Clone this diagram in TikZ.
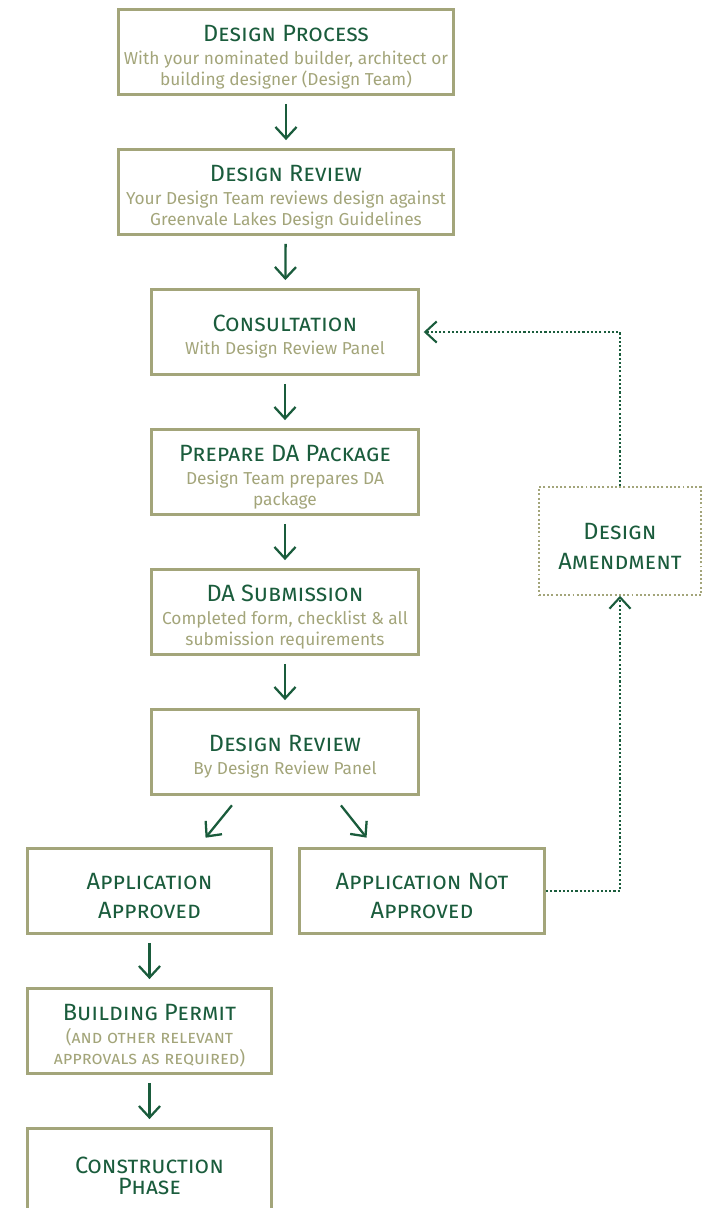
\documentclass[tikz,border=0pt]{standalone}
\usepackage{fontspec}
\setmainfont{Fira Sans}
\usepackage{tikz}
\usetikzlibrary{positioning}
\usetikzlibrary{arrows.meta}
\usepackage{xcolor}

\definecolor{gvGreen}{HTML}{1A5C3C}
\definecolor{gvKhaki}{HTML}{A3A57A}

\newcommand{\lift}{\rule{0pt}{15pt}}
\newcommand{\stagetitle}[1]{{\fontsize{13.4}{15}\selectfont\scshape\color{gvGreen}#1}}
\newcommand{\stagenote}[1]{{\color{gvKhaki}#1}}

\begin{document}
\begin{tikzpicture}[x=0.02cm, y=-0.02cm,
    stage/.style={draw=gvKhaki, line width=1.7pt, align=center, inner sep=0pt,
        minimum height=1.7cm, font=\fontsize{9.85}{12}\selectfont},
    wide/.style={stage, minimum width=6.7cm},
    mid/.style={stage, minimum width=5.35cm},
    side/.style={stage, minimum width=4.9cm},
    amendbox/.style={stage, line width=1.1pt, dash pattern=on 1.1pt off 1.3pt,
        minimum width=3.25cm, minimum height=2.15cm},
    flow/.style={-{Straight Barb[length=6.5pt, width=12pt]}, line width=1.3pt, gvGreen,
        shorten <=4.5pt, shorten >=4.5pt},
    back/.style={-{Straight Barb[length=6.5pt, width=12pt]}, line width=1.2pt, gvGreen,
        dash pattern=on 1.2pt off 1.2pt}]
\useasboundingbox (0,0) rectangle (709,1208);
\clip (0,0) rectangle (709,1208);

% main column
\node[wide] (process) at (286,52) {\lift\stagetitle{Design Process}\\[1pt]
    \stagenote{With your nominated builder, architect or}\\
    \stagenote{building designer (Design Team)}};
\node[wide] (review) at (286,192) {\lift\stagetitle{Design Review}\\[1pt]
    \stagenote{Your Design Team reviews design against}\\
    \stagenote{Greenvale Lakes Design Guidelines}};
\node[mid] (consult) at (285,332) {\lift\stagetitle{Consultation}\\[1pt]
    \stagenote{With Design Review Panel}};
\node[mid] (package) at (285,472) {\lift\stagetitle{Prepare DA Package}\\[1pt]
    \stagenote{Design Team prepares DA}\\
    \stagenote{package}};
\node[mid] (submit) at (285,612) {\lift\stagetitle{DA Submission}\\[1pt]
    \stagenote{Completed form, checklist \& all}\\
    \stagenote{submission requirements}};
\node[mid] (panel) at (285,752) {\lift\stagetitle{Design Review}\\[1pt]
    \stagenote{By Design Review Panel}};

% outcomes
\node[side] (approved) at (149.5,891) {\lift\stagetitle{Application}\\[5pt]
    \stagetitle{Approved}};
\node[side] (refused) at (422,891) {\lift\stagetitle{Application Not}\\[5pt]
    \stagetitle{Approved}};
\node[side] (permit) at (149.5,1031) {\lift\stagetitle{Building Permit}\\[1pt]
    {\fontsize{10.2}{12}\selectfont\scshape\color{gvKhaki}(and other relevant}\\
    {\fontsize{10.2}{12}\selectfont\scshape\color{gvKhaki}approvals as required)}};
\node[side] (build) at (149.5,1171) {\lift\stagetitle{Construction}\\[0pt]
    \stagetitle{Phase}};

% amendment loop
\node[amendbox] (amend) at (620,541) {\lift\stagetitle{Design}\\[5pt]
    \stagetitle{Amendment}};

% Arrows down the column
\draw[flow] (process) -- (review);
\draw[flow] (review) -- (consult);
\draw[flow] (consult) -- (package);
\draw[flow] (package) -- (submit);
\draw[flow] (submit) -- (panel);
\draw[flow, shorten <=0.24cm, shorten >=0.24cm] ([xshift=-0.91cm]panel.south) -- ([xshift=0.97cm]approved.north);
\draw[flow, shorten <=0.24cm, shorten >=0.24cm] ([xshift=0.97cm]panel.south) -- ([xshift=-0.96cm]refused.north);
\draw[flow] (approved) -- (permit);
\draw[flow] (permit) -- (build);

% Dotted return path
\draw[back] (refused.east) -| (amend.south);
\draw[back] (amend.north) |- ([xshift=2pt]consult.east);
\end{tikzpicture}
\end{document}
